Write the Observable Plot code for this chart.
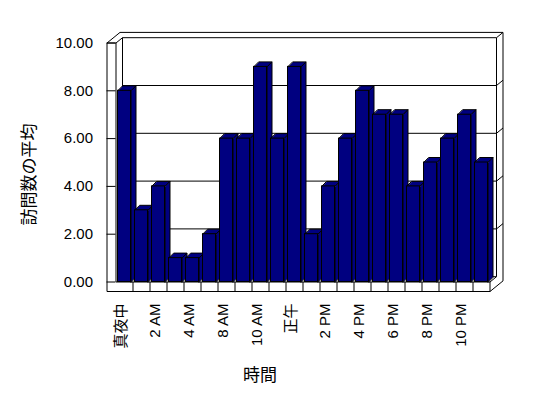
<!DOCTYPE html>
<html><head><meta charset="utf-8">
<script src="https://cdn.jsdelivr.net/npm/d3@7"></script>
<script src="https://cdn.jsdelivr.net/npm/@observablehq/plot@0.6"></script>
<style>body{margin:0;background:#fff}</style>
</head><body><div id="chart"></div>
<script>
const categories = ["真夜中","1 AM","2 AM","3 AM","4 AM","7 AM","8 AM","9 AM","10 AM","11 AM","正午","1 PM","2 PM","3 PM","4 PM","5 PM","6 PM","7 PM","8 PM","9 PM","10 PM","11 PM"];
const visits = [8,3,4,1,1,2,6,6,9,6,9,2,4,6,8,7,7,4,5,6,7,5];
const yTicks = [0,2,4,6,8,10];
const gridValues = [2,4,6,8];
const yTitle = "訪問数の平均";
const xTitle = "時間";

const W = 548, H = 398, ML = 115.5, MR = 58.5, MT = 42.5, MB = 116.5;
const n = categories.length;
const YMAX = 10;
const KX = (W - ML - MR) / n;
const KY = (H - MT - MB) / YMAX;
const px = p => p / KX, py = p => p / KY;
const DEP = {x: 5, y: 5};
const WALL = {x: 6.5, y: 5.3};
const FLOOR = 9.5, LWALL = 9;
const NAVY = "#000080";
const FONT = "'Liberation Sans', Arial, 'Noto Sans CJK JP', sans-serif";
const JFONT = "'Noto Sans CJK JP', sans-serif";

const x0 = -0.5, xN = n - 0.5, xl = x0 - px(LWALL), yf = -py(FLOOR);
const P = (x, y, k) => [x + k * px(WALL.x), y + k * py(WALL.y)];
const seg = (a, b) => ({x1: a[0], y1: a[1], x2: b[0], y2: b[1]});

const wallLines = [
  seg(P(x0, YMAX, 1), P(xN, YMAX, 1)),
  seg(P(x0, 0, 1), P(x0, YMAX, 1)),
  seg(P(xN, 0, 1), P(xN, YMAX, 1)),
  seg(P(x0, 0, 1), P(xN, 0, 1)),
  seg(P(xl, YMAX, 2), P(xN, YMAX, 2)),
  seg(P(xN, yf, 2), P(xN, YMAX, 2)),
  seg(P(xN, YMAX, 1), P(xN, YMAX, 2)),
  ...gridValues.map(t => seg(P(x0, t, 1), P(xN, t, 1))),
  ...gridValues.map(t => seg(P(xN, t, 1), P(xN, t, 2))),
  seg(P(xl, YMAX, 0), P(xl, YMAX, 2)),
  seg(P(x0, YMAX, 0), P(x0, YMAX, 1)),
  seg(P(xl, YMAX, 0), P(x0, YMAX, 0)),
  seg(P(xl, yf, 0), P(xl, YMAX, 0)),
  seg(P(x0, 0, 0), P(x0, YMAX, 0)),
  seg(P(xl, yf, 0), P(xN, yf, 0)),
  seg(P(x0, 0, 0), P(xN, 0, 0)),
  seg(P(xN, yf, 0), P(xN, 0, 0)),
  seg(P(xN, yf, 0), P(xN, yf, 2)),
  seg(P(xN, 0, 0), P(xN, 0, 1)),
  ...d3.range(1, n).map(k => seg(P(k - 0.5, yf, 0), P(k - 0.5, 0, 0)))
];

const bars = visits.map((v, i) => ({i, v, label: categories[i], x1: i - 0.5 + px(2), x2: i - 0.5 + px(15)}));
const ddx = px(DEP.x), ddy = py(DEP.y);
const faces = bars.flatMap(b => [
  {id: "t" + b.i, x: b.x1, y: b.v}, {id: "t" + b.i, x: b.x2, y: b.v},
  {id: "t" + b.i, x: b.x2 + ddx, y: b.v + ddy}, {id: "t" + b.i, x: b.x1 + ddx, y: b.v + ddy},
  {id: "s" + b.i, x: b.x2, y: 0}, {id: "s" + b.i, x: b.x2, y: b.v},
  {id: "s" + b.i, x: b.x2 + ddx, y: b.v + ddy}, {id: "s" + b.i, x: b.x2 + ddx, y: ddy}
]);

const shown = bars.filter(b => b.i % 2 === 0);

const chart = Plot.plot({
  width: W, height: H,
  marginLeft: ML, marginRight: MR, marginTop: MT, marginBottom: MB,
  style: {fontSize: "15px", fontFamily: FONT, background: "#fff", color: "#000"},
  x: {domain: [x0, xN], axis: null},
  y: {domain: [0, YMAX], ticks: yTicks, tickFormat: d => d.toFixed(2), tickSize: LWALL, tickPadding: 14, label: null},
  marks: [
    Plot.link(wallLines, {x1: "x1", y1: "y1", x2: "x2", y2: "y2", stroke: "#000", strokeWidth: 1}),
    Plot.line(faces, {x: "x", y: "y", z: "id", fill: NAVY, stroke: "#000", strokeWidth: 1, curve: "linear-closed", strokeLinejoin: "miter"}),
    Plot.rect(bars, {x1: "x1", x2: "x2", y1: 0, y2: "v", fill: NAVY, stroke: "#000", strokeWidth: 1}),
    Plot.text(shown, {x: "i", y: d => 0, text: "label", rotate: -90, textAnchor: "end", lineAnchor: "middle", dy: 21.5, dx: -3, fontSize: 15, fill: "black"}),
    Plot.text([yTitle], {text: d => d, frameAnchor: "left", textAnchor: "middle", lineAnchor: "middle", rotate: -90, dx: -86.5, dy: 12, fontSize: 17, fill: "black", fontFamily: JFONT}),
    Plot.text([xTitle], {text: d => d, frameAnchor: "bottom", textAnchor: "middle", lineAnchor: "middle", dx: -43, dy: 94, fontSize: 17, fill: "black", fontFamily: JFONT})
  ]
});
document.getElementById("chart").appendChild(chart);
</script>
</body></html>
